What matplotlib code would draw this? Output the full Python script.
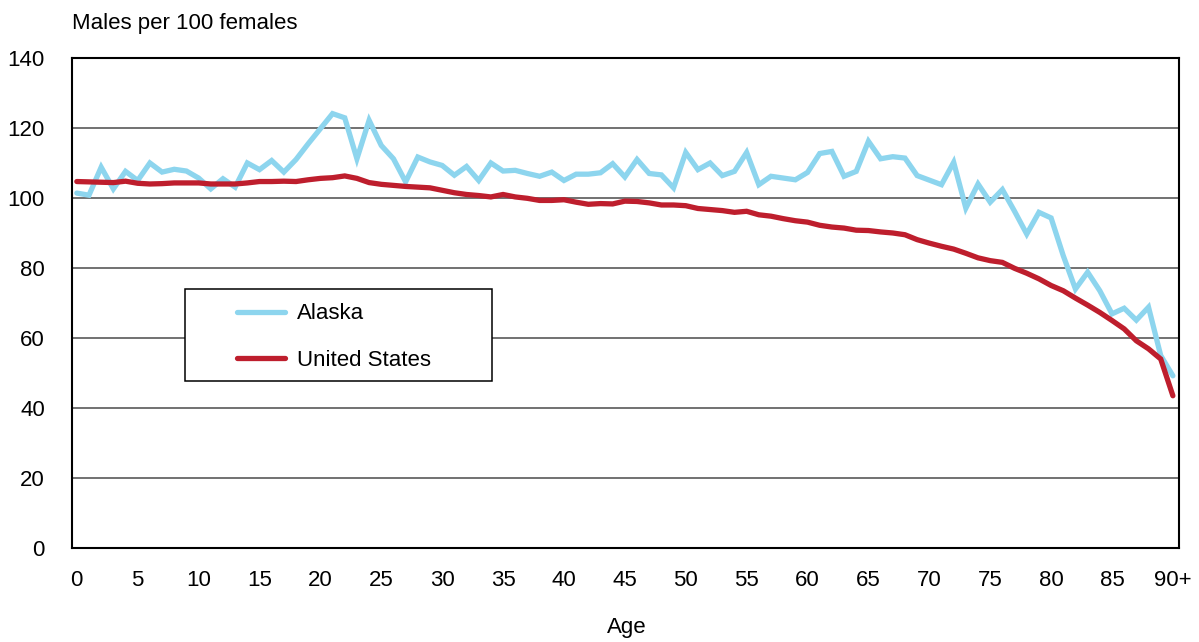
import matplotlib
matplotlib.use("Agg")
import matplotlib.pyplot as plt
from matplotlib.patches import Rectangle
import numpy as np

plt.rcParams['font.family'] = ['Liberation Sans', 'DejaVu Sans']

ages = list(range(0, 91))
xtick_vals = list(range(0, 91, 5))
xtick_labels = [str(v) for v in range(0, 90, 5)] + ['90+']
ytick_vals = list(range(0, 141, 20))

alaska = [101.4, 100.8, 108.8, 102.6, 107.6, 105.0, 110.0, 107.4, 108.2, 107.7,
          105.7, 102.6, 105.5, 103.1, 110.0, 108.1, 110.7, 107.4, 111.0, 115.5,
          119.8, 124.1, 122.9, 111.2, 122.2, 115.0, 111.2, 104.6, 111.7, 110.3,
          109.3, 106.5, 109.0, 105.0, 110.0, 107.7, 107.9, 107.0, 106.2, 107.4,
          105.0, 106.8, 106.8, 107.2, 109.8, 106.0, 111.0, 107.0, 106.6, 102.9,
          113.0, 108.1, 110.0, 106.4, 107.6, 113.0, 103.8, 106.2, 105.7, 105.2,
          107.3, 112.7, 113.3, 106.2, 107.6, 116.2, 111.2, 111.8, 111.4, 106.4,
          105.1, 103.8, 110.2, 97.1, 104.0, 98.8, 102.4, 96.2, 89.7, 95.9,
          94.3, 83.5, 74.0, 78.8, 73.5, 66.9, 68.5, 65.1, 68.8, 55.0,
          49.2]

united_states = [104.7, 104.6, 104.5, 104.4, 104.8, 104.2, 104.0, 104.1, 104.3, 104.3,
                 104.3, 104.0, 104.0, 104.0, 104.3, 104.7, 104.7, 104.8, 104.7, 105.2,
                 105.6, 105.8, 106.3, 105.6, 104.4, 103.9, 103.6, 103.3, 103.1, 102.9,
                 102.2, 101.5, 101.0, 100.7, 100.3, 101.0, 100.3, 99.9, 99.3, 99.3,
                 99.5, 98.8, 98.2, 98.4, 98.3, 99.1, 99.0, 98.6, 98.0, 98.0,
                 97.8, 97.0, 96.7, 96.4, 95.9, 96.2, 95.2, 94.8, 94.1, 93.5,
                 93.1, 92.2, 91.7, 91.4, 90.8, 90.7, 90.3, 90.0, 89.5, 88.1,
                 87.1, 86.2, 85.4, 84.2, 82.9, 82.1, 81.6, 79.9, 78.5, 76.9,
                 75.0, 73.5, 71.4, 69.4, 67.3, 65.0, 62.6, 59.2, 56.9, 54.0,
                 43.5]

FS = 16

fig = plt.figure(figsize=(11.99, 6.42), dpi=100)
ax = fig.add_axes([0.060, 0.1464, 0.9233, 0.7633])

for v in ytick_vals[1:-1]:
    ax.axhline(v, color='#666666', linewidth=1.3, zorder=1)

ax.plot(ages, alaska, color='#8DD5EE', linewidth=3.8, label='Alaska', zorder=3,
        solid_joinstyle='miter', solid_capstyle='round')
ax.plot(ages, united_states, color='#BE1E2D', linewidth=3.8, label='United States', zorder=4,
        solid_joinstyle='miter', solid_capstyle='round')

ax.set_xlim(-0.4, 90.5)
ax.set_ylim(0, 140)
ax.set_xticks(xtick_vals)
ax.set_xticklabels(xtick_labels)
ax.set_yticks(ytick_vals)
ax.tick_params(axis='both', length=0, labelsize=FS, colors='black')
ax.tick_params(axis='x', pad=16)
ax.tick_params(axis='y', pad=19.5)
for s in ax.spines.values():
    s.set_color('black')
    s.set_linewidth(1.5)

fig.text(0.060, 0.964, 'Males per 100 females', fontsize=FS, ha='left', va='center')
fig.text(0.523, 0.022, 'Age', fontsize=FS, ha='center', va='center')

# legend box
ax.add_patch(Rectangle((0.1021, 0.3408), 0.2773, 0.1878, transform=ax.transAxes,
                       fill=True, facecolor='white', edgecolor='black', linewidth=1.1,
                       zorder=5))
leg = ax.legend(loc='center left', bbox_to_anchor=(0.1495, 0.4306),
                fontsize=FS, frameon=False, handlelength=2.15, handletextpad=0.55,
                borderpad=0, labelspacing=1.14, borderaxespad=0)
leg.set_zorder(6)

fig.savefig('out.png', dpi=100)
